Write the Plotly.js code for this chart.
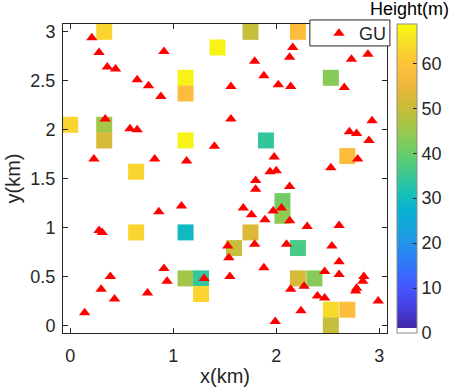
<!DOCTYPE html>
<html>
<head>
<meta charset="utf-8">
<script src="https://cdn.plot.ly/plotly-3.0.1.min.js"></script>
<style>
  html, body { margin: 0; padding: 0; background: #fff; }
  #chart { width: 450px; height: 390px; }
</style>
</head>
<body>
<div id="chart"></div>
<script>
// grid cells with a building height (m)
const cellX = [0.33, 1.43, 1.12, 1.12, 0.00, 0.33, 0.33, 1.12, 0.64, 1.75, 2.21, 2.53, 1.90, 2.69,
               0.64, 1.12, 1.12, 1.27, 1.27, 2.06, 2.06, 1.75, 1.59, 2.21, 2.21, 2.37, 2.53, 2.69, 2.53];
const cellY = [3.00, 2.84, 2.53, 2.37, 2.05, 2.05, 1.89, 1.89, 1.57, 3.00, 3.00, 2.53, 1.89, 1.73,
               0.95, 0.95, 0.48, 0.48, 0.32, 1.27, 1.12, 0.95, 0.79, 0.79, 0.48, 0.48, 0.16, 0.16, 0.00];
const cellHeight = [63, 67.5, 67.5, 58.5, 63, 46, 52, 67.5, 63, 50, 58.5, 43, 34, 58.5,
                    63, 29.5, 46, 34, 63, 41, 44, 53, 50, 36.5, 52, 43, 64, 59, 50];

// ground users
const guX = [0.21, 0.28, 0.36, 0.44, 0.65, 0.76, 0.88, 0.91, 0.34, 0.58, 0.65, 0.23, 0.82, 1.13, 1.40,
             2.16, 2.13, 1.79, 1.88, 2.02, 2.14, 1.56, 2.73, 2.89, 2.66, 1.56, 1.98, 2.71, 2.78, 2.93,
             2.90, 2.79, 2.53, 1.94, 2.00, 0.28, 0.31, 0.86, 1.08, 0.91, 0.94, 0.39, 0.30, 0.43, 0.75,
             0.14, 1.30, 1.80, 1.80, 2.13, 1.68, 1.76, 1.89, 1.97, 2.05, 2.13, 2.30, 2.61, 1.53, 1.79,
             2.10, 2.54, 1.54, 2.61, 1.88, 1.55, 2.47, 2.61, 2.85, 2.84, 2.27, 2.14, 2.78, 2.77, 2.40,
             2.47, 2.99, 2.24, 1.99];
const guY = [2.94, 2.79, 2.64, 2.62, 2.51, 2.45, 2.34, 2.80, 2.11, 2.01, 2.00, 1.70, 1.70, 1.68, 1.83,
             2.84, 2.74, 2.70, 2.55, 2.46, 2.44, 2.44, 2.72, 2.77, 2.43, 2.11, 1.72, 1.98, 1.96, 2.09,
             1.89, 1.70, 1.61, 1.57, 1.58, 0.97, 0.95, 1.16, 1.22, 0.58, 0.45, 0.50, 0.37, 0.27, 0.33,
             0.13, 0.48, 1.48, 1.39, 1.42, 1.20, 1.13, 1.08, 1.17, 1.20, 1.07, 1.01, 1.02, 0.81, 0.83,
             0.83, 0.81, 0.69, 0.65, 0.59, 0.50, 0.55, 0.52, 0.50, 0.45, 0.40, 0.37, 0.38, 0.35, 0.30,
             0.28, 0.25, 0.15, 0.04];

const heightMax = 68.75;
const cbTicks = [0, 10, 20, 30, 40, 50, 60];

// white bottom row + parula
const parula = [
  [0.0, 'rgb(255,255,255)'], [0.0156, 'rgb(255,255,255)'],
  [0.0157, 'rgb(62,38,168)'], [0.10, 'rgb(71,70,235)'], [0.15, 'rgb(69,87,252)'],
  [0.20, 'rgb(54,110,253)'], [0.25, 'rgb(43,130,245)'], [0.30, 'rgb(33,150,230)'],
  [0.35, 'rgb(20,166,219)'], [0.40, 'rgb(8,178,209)'], [0.45, 'rgb(23,191,184)'],
  [0.50, 'rgb(54,199,153)'], [0.55, 'rgb(84,204,122)'], [0.60, 'rgb(117,204,97)'],
  [0.65, 'rgb(150,201,79)'], [0.70, 'rgb(184,194,64)'], [0.75, 'rgb(212,186,56)'],
  [0.80, 'rgb(237,184,59)'], [0.85, 'rgb(252,189,61)'], [0.90, 'rgb(252,204,51)'],
  [0.95, 'rgb(245,227,38)'], [1.0, 'rgb(249,251,14)']
];

const textColor = '#262626';
const family = "'Liberation Sans', Arial, sans-serif";
const font = {family: family, size: 18, color: textColor};

let cells = {
  x: cellX,
  y: cellY,
  mode: 'markers',
  type: 'scatter',
  showlegend: false,
  hoverinfo: 'skip',
  marker: {
    symbol: 'square',
    size: 16,
    color: cellHeight,
    cmin: 0,
    cmax: heightMax,
    colorscale: parula,
    line: {width: 0},
    showscale: true,
    colorbar: {
      thickness: 20,
      len: 1,
      lenmode: 'fraction',
      y: 0.5,
      yanchor: 'middle',
      ypad: 0,
      x: 1.031,
      xanchor: 'left',
      xpad: 0,
      outlinecolor: '#8c8c8c',
      outlinewidth: 1,
      ticks: 'inside',
      ticklen: 4,
      tickcolor: textColor,
      tickvals: cbTicks,
      tickfont: font,
    }
  }
};

let users = {
  x: guX,
  y: guY,
  mode: 'markers',
  type: 'scatter',
  name: 'GU',
  marker: {symbol: 'triangle-up', size: 10, color: '#ff0000'}
};

let axisBase = {
  showline: true,
  mirror: 'ticks',
  linecolor: textColor,
  linewidth: 1,
  ticks: 'inside',
  ticklen: 5,
  tickcolor: textColor,
  showgrid: false,
  zeroline: false,
  tickfont: font,
};

let layout = {
  width: 450,
  height: 390,
  margin: {l: 63, r: 63, t: 24, b: 57, autoexpand: false},
  paper_bgcolor: '#fff',
  plot_bgcolor: '#fff',
  font: font,
  xaxis: Object.assign({}, axisBase, {
    range: [-0.07, 3.075],
    tickvals: [0, 1, 2, 3],
    ticklabelstandoff: 6,
    title: {text: 'x(km)', font: {size: 20, color: textColor}, standoff: 4},
  }),
  yaxis: Object.assign({}, axisBase, {
    range: [-0.078, 3.08],
    tickvals: [0, 0.5, 1, 1.5, 2, 2.5, 3],
    ticklabelstandoff: 3,
    title: {text: 'y(km)', font: {size: 20, color: textColor}, standoff: 4},
  }),
  legend: {
    x: 0.79,
    y: 1.029,
    xanchor: 'left',
    yanchor: 'top',
    bgcolor: 'rgba(0,0,0,0)',
    borderwidth: 0,
    font: font,
  },
  // legend frame
  shapes: [{
    type: 'rect',
    xref: 'paper',
    yref: 'paper',
    x0: 0.762, x1: 1.009,
    y0: 0.929, y1: 1.013,
    fillcolor: '#fff',
    line: {color: textColor, width: 1},
    layer: 'above',
  }],
  annotations: [{
    text: 'Height(m)',
    xref: 'paper',
    yref: 'paper',
    x: 1.068,
    y: 1.047,
    xanchor: 'center',
    yanchor: 'middle',
    showarrow: false,
    font: {family: family, size: 18, color: '#000'},
  }],
};

Plotly.newPlot('chart', [cells, users], layout, {displayModeBar: false, staticPlot: true});
</script>
</body>
</html>
